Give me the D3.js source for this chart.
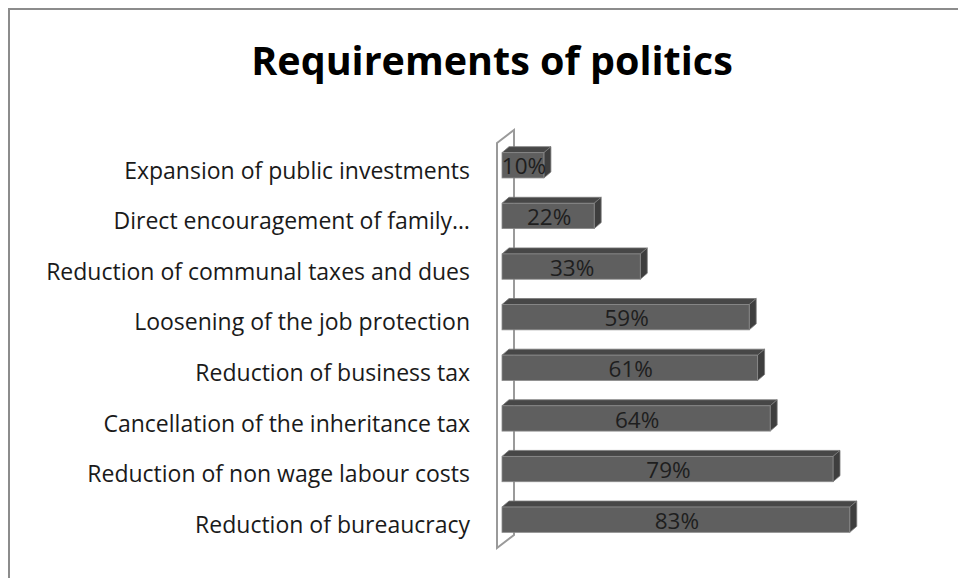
<!DOCTYPE html>
<head>
  <meta charset="UTF-8">
  <title>Requirements of politics</title>
  <style>
  body, html, svg{
    padding: 0;
    margin: 0;
  }
  body{
    background: #fff;
  }
  text{
    font-family: "Open Sans", Lato, sans-serif;
  }
  </style>
</head>
<body>
  <script src="https://cdn.jsdelivr.net/npm/d3@7"></script>
  <script type="text/javascript">
  // data, top to bottom
  var categories = [
    'Expansion of public investments',
    'Direct encouragement of family\u2026',
    'Reduction of communal taxes and dues',
    'Loosening of the job protection',
    'Reduction of business tax',
    'Cancellation of the inheritance tax',
    'Reduction of non wage labour costs',
    'Reduction of bureaucracy'
  ];
  var values = [10, 22, 33, 59, 61, 64, 79, 83];
  var labels = ['10%', '22%', '33%', '59%', '61%', '64%', '79%', '83%'];

  var width = 958, height = 578;
  var dx = 7, dy = -6; // 3d depth

  var svg = d3.select('body')
    .append('svg')
    .attr('width', width)
    .attr('height', height);

  // frame
  svg.append('rect')
    .attr('x', 9).attr('y', 9)
    .attr('width', width + 10).attr('height', height + 10)
    .attr('fill', 'none')
    .attr('stroke', '#8c8c8c')
    .attr('stroke-width', 2);

  svg.append('text')
    .attr('x', 492).attr('y', 75)
    .attr('text-anchor', 'middle')
    .attr('font-size', 39.5)
    .attr('font-weight', 'bold')
    .attr('fill', '#000')
    .text('Requirements of politics');

  var x = d3.scaleLinear().domain([0, 100]).range([502, 921]);
  var y = d3.scaleBand().domain(categories).range([140, 545])
    .paddingInner(0.5).paddingOuter(0.25);

  // wall
  var wx = 497, wTop = 143, wBot = 548;
  svg.append('path')
    .attr('d', 'M' + wx + ',' + wTop + 'L' + (wx + 17) + ',' + (wTop - 13) +
      'L' + (wx + 17) + ',' + (wBot - 13) + 'L' + wx + ',' + wBot + 'Z')
    .attr('fill', '#fff')
    .attr('stroke', '#9a9a9a')
    .attr('stroke-width', 2);

  var bars = svg.append('g').selectAll('g')
    .data(values)
    .enter()
    .append('g');

  var bw = y.bandwidth();

  // top face
  bars.append('path')
    .attr('d', function(d, i){
      var y0 = y(categories[i]), x0 = x(0), x1 = x(d);
      return 'M' + x0 + ',' + y0 + 'L' + (x0 + dx) + ',' + (y0 + dy) +
        'L' + (x1 + dx) + ',' + (y0 + dy) + 'L' + x1 + ',' + y0 + 'Z';
    })
    .attr('fill', '#474747')
    .attr('stroke', '#7a7a7a')
    .attr('stroke-width', 0.8);

  // side face
  bars.append('path')
    .attr('d', function(d, i){
      var y0 = y(categories[i]), x1 = x(d);
      return 'M' + x1 + ',' + y0 + 'L' + (x1 + dx) + ',' + (y0 + dy) +
        'L' + (x1 + dx) + ',' + (y0 + dy + bw) + 'L' + x1 + ',' + (y0 + bw) + 'Z';
    })
    .attr('fill', '#3e3e3e')
    .attr('stroke', '#7a7a7a')
    .attr('stroke-width', 0.8);

  // front face
  bars.append('rect')
    .attr('x', x(0))
    .attr('y', function(d, i){ return y(categories[i]); })
    .attr('width', function(d){ return x(d) - x(0); })
    .attr('height', bw)
    .attr('fill', '#5f5f5f')
    .attr('stroke', '#8a8a8a')
    .attr('stroke-width', 0.8);

  bars.append('text')
    .attr('x', function(d){ return (x(0) + x(d)) / 2 + 1; })
    .attr('y', function(d, i){ return y(categories[i]) + bw / 2 + 1; })
    .attr('dy', '0.36em')
    .attr('text-anchor', 'middle')
    .attr('font-size', 22.5)
    .attr('fill', '#1e1e1e')
    .text(function(d, i){ return labels[i]; });

  // category labels
  svg.append('g').selectAll('text')
    .data(categories)
    .enter()
    .append('text')
    .attr('x', 470)
    .attr('y', function(d){ return y(d) + bw / 2 + 5; })
    .attr('dy', '0.36em')
    .attr('text-anchor', 'end')
    .attr('font-size', 23)
    .attr('fill', '#1a1a1a')
    .text(function(d){ return d; });
  </script>
</body>
</html>
